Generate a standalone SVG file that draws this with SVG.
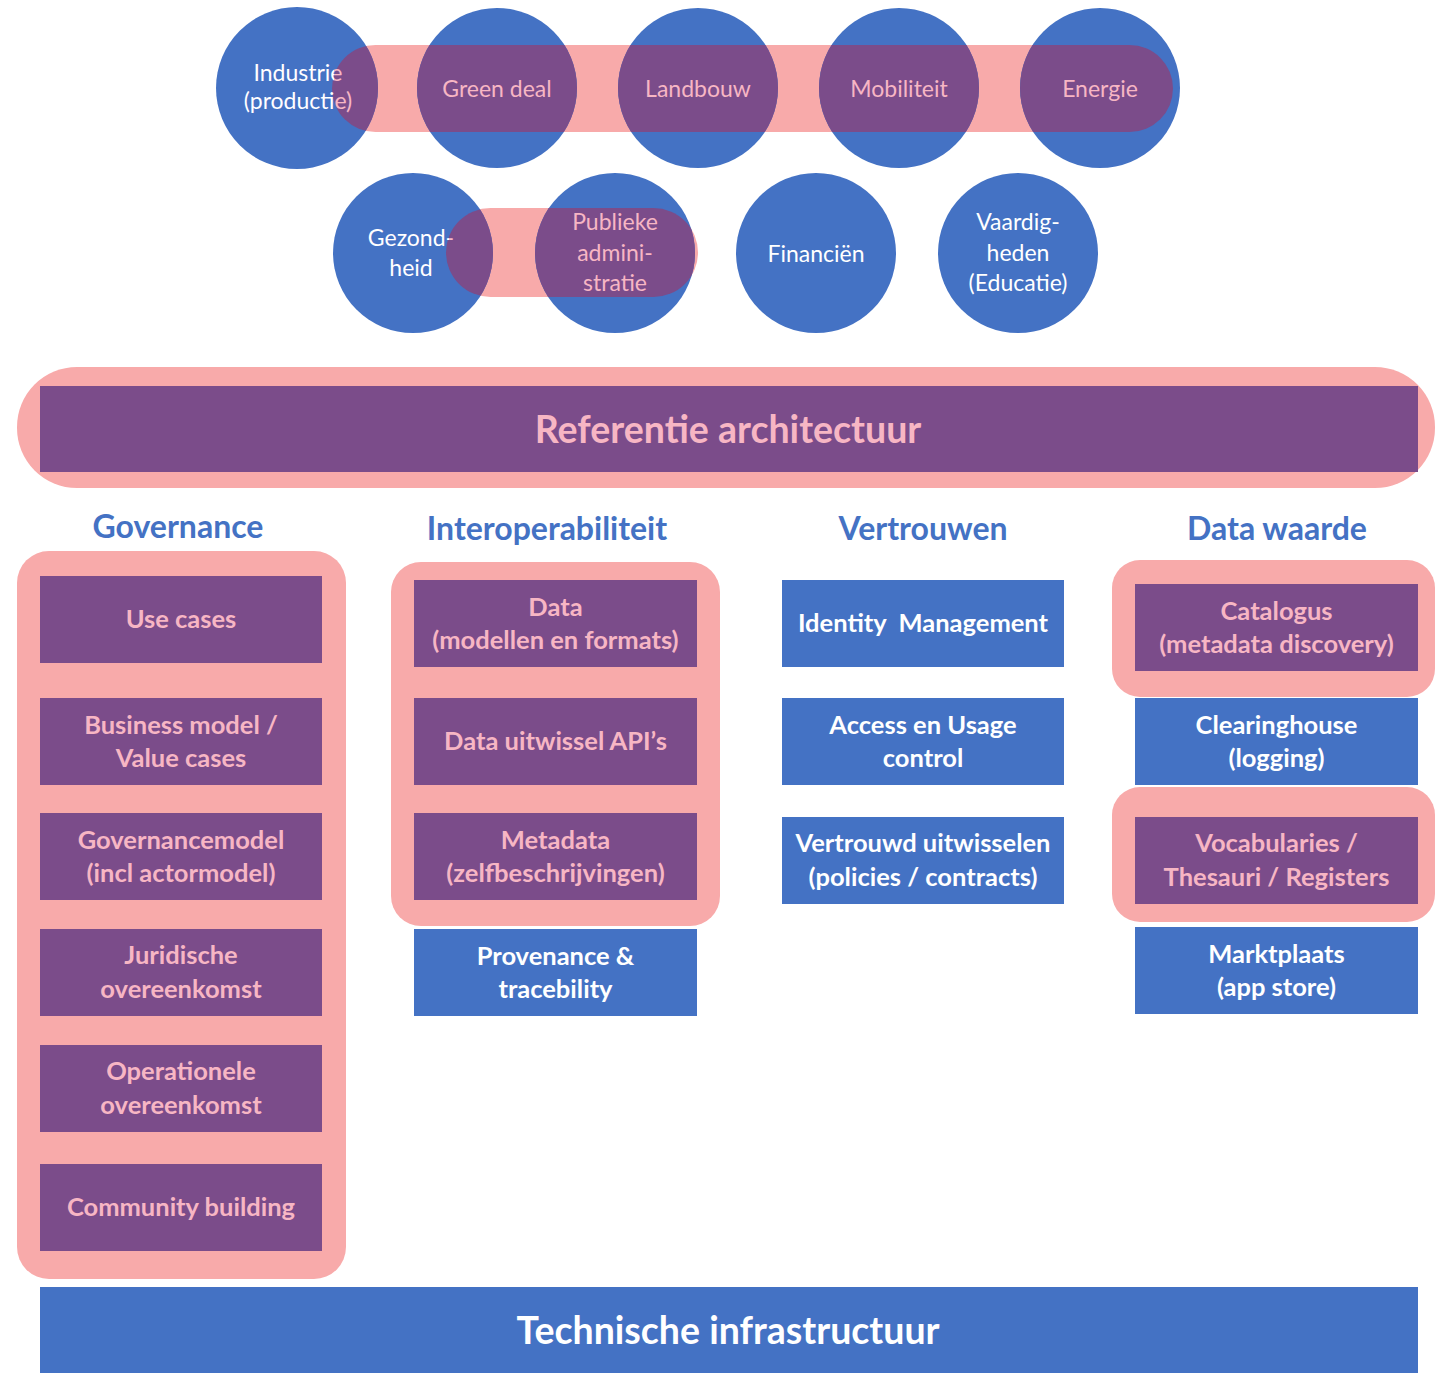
<svg xmlns="http://www.w3.org/2000/svg" width="1435" height="1373" viewBox="0 0 1435 1373">
<style>
.bg{fill:#ffffff}
.pink{fill:#F8AAAA}
.blue{fill:#4472C4}
.purple{fill:#7B4C8A}
.ct{font-family:Lato,"Open Sans","Liberation Sans",sans-serif;font-size:23px;text-anchor:middle}
.bt{font-family:Lato,"Open Sans","Liberation Sans",sans-serif;font-size:25.5px;font-weight:bold;text-anchor:middle}
.ht{font-family:Lato,"Open Sans","Liberation Sans",sans-serif;font-size:32px;font-weight:bold;text-anchor:middle;fill:#4472C4}
.big{font-family:Lato,"Open Sans","Liberation Sans",sans-serif;font-size:37.5px;font-weight:bold;text-anchor:middle}
.w{fill:#ffffff}
.p{fill:#F7B6C4}
</style>
<defs>
<clipPath id="c1"><circle cx="297" cy="88" r="81"/></clipPath>
<clipPath id="c2"><circle cx="497" cy="88" r="80"/></clipPath>
<clipPath id="c3"><circle cx="698" cy="88" r="80"/></clipPath>
<clipPath id="c4"><circle cx="899" cy="88" r="80"/></clipPath>
<clipPath id="c5"><circle cx="1100" cy="88" r="80"/></clipPath>
<clipPath id="c6"><circle cx="413" cy="253" r="80"/></clipPath>
<clipPath id="c7"><circle cx="615" cy="253" r="80"/></clipPath>
<linearGradient id="gInd" gradientUnits="userSpaceOnUse" x1="0" y1="0" x2="1435" y2="0">
<stop offset="0.2328" stop-color="#ffffff"/><stop offset="0.2328" stop-color="#F7B6C4"/>
</linearGradient>
<linearGradient id="gGez" gradientUnits="userSpaceOnUse" x1="0" y1="0" x2="1435" y2="0">
<stop offset="0.3129" stop-color="#ffffff"/><stop offset="0.3129" stop-color="#F7B6C4"/>
</linearGradient>
</defs>
<rect class="bg" x="0" y="0" width="1435" height="1373"/>

<g id="bands">
<rect id="band-top" class="pink" x="332" y="45" width="841" height="87" rx="43.5"/>
<rect id="band-mid" class="pink" x="446" y="208" width="252" height="89" rx="44.5"/>
</g>

<g id="node-industrie">
<circle class="blue" cx="297" cy="88" r="81"/>
<rect class="purple" x="332" y="45" width="841" height="87" rx="43.5" clip-path="url(#c1)"/>
<text class="ct" x="298" fill="url(#gInd)"><tspan x="298" y="81">Industrie</tspan><tspan x="298" y="109">(productie)</tspan></text>
</g>
<g id="node-greendeal">
<circle class="blue" cx="497" cy="88" r="80"/>
<rect class="purple" x="332" y="45" width="841" height="87" rx="43.5" clip-path="url(#c2)"/>
<text class="ct p" x="497" y="97">Green deal</text>
</g>
<g id="node-landbouw">
<circle class="blue" cx="698" cy="88" r="80"/>
<rect class="purple" x="332" y="45" width="841" height="87" rx="43.5" clip-path="url(#c3)"/>
<text class="ct p" x="698" y="97">Landbouw</text>
</g>
<g id="node-mobiliteit">
<circle class="blue" cx="899" cy="88" r="80"/>
<rect class="purple" x="332" y="45" width="841" height="87" rx="43.5" clip-path="url(#c4)"/>
<text class="ct p" x="899" y="97">Mobiliteit</text>
</g>
<g id="node-energie">
<circle class="blue" cx="1100" cy="88" r="80"/>
<rect class="purple" x="332" y="45" width="841" height="87" rx="43.5" clip-path="url(#c5)"/>
<text class="ct p" x="1100" y="97">Energie</text>
</g>
<g id="node-gezondheid">
<circle class="blue" cx="413" cy="253" r="80"/>
<rect class="purple" x="446" y="208" width="252" height="89" rx="44.5" clip-path="url(#c6)"/>
<text class="ct" fill="url(#gGez)"><tspan x="411" y="246">Gezond-</tspan><tspan x="411" y="276">heid</tspan></text>
</g>
<g id="node-publieke">
<circle class="blue" cx="615" cy="253" r="80"/>
<rect class="purple" x="446" y="208" width="252" height="89" rx="44.5" clip-path="url(#c7)"/>
<text class="ct p"><tspan x="615" y="230">Publieke</tspan><tspan x="615" y="261">admini-</tspan><tspan x="615" y="291">stratie</tspan></text>
</g>
<g id="node-financien">
<circle class="blue" cx="816" cy="253" r="80"/>
<text class="ct w" x="816" y="262">Financiën</text>
</g>
<g id="node-vaardigheden">
<circle class="blue" cx="1018" cy="253" r="80"/>
<text class="ct w"><tspan x="1018" y="230">Vaardig-</tspan><tspan x="1018" y="261">heden</tspan><tspan x="1018" y="291">(Educatie)</tspan></text>
</g>

<g id="node-referentie">
<rect class="pink" x="17" y="367" width="1418" height="121" rx="60"/>
<rect class="purple" x="40" y="386" width="1378" height="86"/>
<text class="big p" x="728" y="443">Referentie architectuur</text>
</g>

<g id="headers">
<text class="ht" x="178" y="538">Governance</text>
<text class="ht" x="547" y="540">Interoperabiliteit</text>
<text class="ht" x="923" y="540">Vertrouwen</text>
<text class="ht" x="1277" y="540">Data waarde</text>
</g>

<g id="group-governance">
<rect class="pink" x="17" y="551" width="329" height="728" rx="32"/>
</g>
<g id="group-interop">
<rect class="pink" x="391" y="562" width="329" height="364" rx="30"/>
</g>
<g id="group-catalogus">
<rect class="pink" x="1112" y="560" width="323" height="137" rx="28"/>
</g>
<g id="group-vocab">
<rect class="pink" x="1112" y="787" width="323" height="135" rx="28"/>
</g>

<g id="node-usecases"><rect class="purple" x="40" y="576" width="282" height="87"/><text class="bt p" x="181" y="628">Use cases</text></g>
<g id="node-business"><rect class="purple" x="40" y="698" width="282" height="87"/><text class="bt p"><tspan x="181" y="734">Business model /</tspan><tspan x="181" y="767">Value cases</tspan></text></g>
<g id="node-govmodel"><rect class="purple" x="40" y="813" width="282" height="87"/><text class="bt p"><tspan x="181" y="849">Governancemodel</tspan><tspan x="181" y="882">(incl actormodel)</tspan></text></g>
<g id="node-juridisch"><rect class="purple" x="40" y="929" width="282" height="87"/><text class="bt p"><tspan x="181" y="964">Juridische</tspan><tspan x="181" y="998">overeenkomst</tspan></text></g>
<g id="node-operationeel"><rect class="purple" x="40" y="1045" width="282" height="87"/><text class="bt p"><tspan x="181" y="1080">Operationele</tspan><tspan x="181" y="1114">overeenkomst</tspan></text></g>
<g id="node-community"><rect class="purple" x="40" y="1164" width="282" height="87"/><text class="bt p" x="181" y="1216">Community building</text></g>

<g id="node-data"><rect class="purple" x="414" y="580" width="283" height="87"/><text class="bt p"><tspan x="555.5" y="616">Data</tspan><tspan x="555.5" y="649">(modellen en formats)</tspan></text></g>
<g id="node-api"><rect class="purple" x="414" y="698" width="283" height="87"/><text class="bt p" x="555.5" y="750">Data uitwissel API’s</text></g>
<g id="node-metadata"><rect class="purple" x="414" y="813" width="283" height="87"/><text class="bt p"><tspan x="555.5" y="849">Metadata</tspan><tspan x="555.5" y="882">(zelfbeschrijvingen)</tspan></text></g>
<g id="node-provenance"><rect class="blue" x="414" y="929" width="283" height="87"/><text class="bt w"><tspan x="555.5" y="965">Provenance &amp;</tspan><tspan x="555.5" y="998">tracebility</tspan></text></g>

<g id="node-identity"><rect class="blue" x="782" y="580" width="282" height="87"/><text class="bt w" x="923" y="632">Identity&#160; Management</text></g>
<g id="node-access"><rect class="blue" x="782" y="698" width="282" height="87"/><text class="bt w"><tspan x="923" y="734">Access en Usage</tspan><tspan x="923" y="767">control</tspan></text></g>
<g id="node-vertrouwd"><rect class="blue" x="782" y="817" width="282" height="87"/><text class="bt w"><tspan x="923" y="852">Vertrouwd uitwisselen</tspan><tspan x="923" y="886">(policies / contracts)</tspan></text></g>

<g id="node-catalogus"><rect class="purple" x="1135" y="584" width="283" height="87"/><text class="bt p"><tspan x="1276.5" y="620">Catalogus</tspan><tspan x="1276.5" y="653">(metadata discovery)</tspan></text></g>
<g id="node-clearinghouse"><rect class="blue" x="1135" y="698" width="283" height="87"/><text class="bt w"><tspan x="1276.5" y="734">Clearinghouse</tspan><tspan x="1276.5" y="767">(logging)</tspan></text></g>
<g id="node-vocab"><rect class="purple" x="1135" y="817" width="283" height="87"/><text class="bt p"><tspan x="1276.5" y="852">Vocabularies /</tspan><tspan x="1276.5" y="886">Thesauri / Registers</tspan></text></g>
<g id="node-marktplaats"><rect class="blue" x="1135" y="927" width="283" height="87"/><text class="bt w"><tspan x="1276.5" y="963">Marktplaats</tspan><tspan x="1276.5" y="996">(app store)</tspan></text></g>

<g id="node-technisch"><rect class="blue" x="40" y="1287" width="1378" height="90"/><text class="big w" x="728" y="1344">Technische infrastructuur</text></g>

<g id="connectors"></g>
</svg>
